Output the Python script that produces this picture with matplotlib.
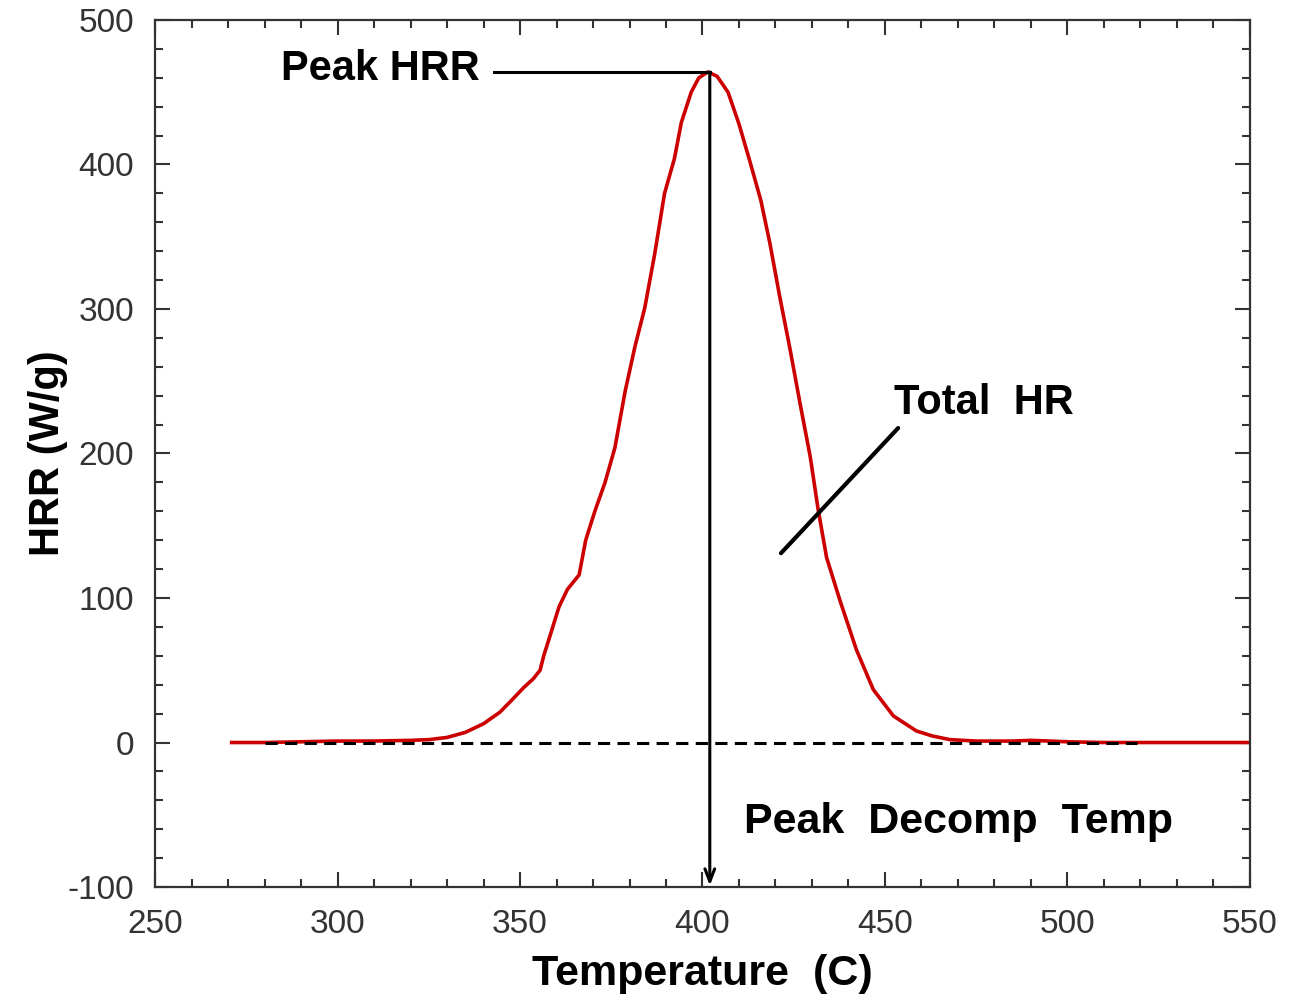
"""HRR curve vs temperature with peak annotations."""
import matplotlib
matplotlib.use("Agg")
import matplotlib.pyplot as plt
from matplotlib.ticker import MultipleLocator

# curve
temperature = [271, 280, 290, 300, 310, 320, 325, 330, 335, 340, 344.5, 348,
               351, 353.6, 355.5, 356.5, 358, 360.7, 363, 366.2, 368, 370.5,
               373.3, 376, 378.8, 381.5, 384.2, 386.9, 389.6, 392.3, 394.2,
               396.9, 399, 401.5, 404, 407, 410, 413, 416, 418.5, 421.2, 424,
               426.7, 429.5, 431.7, 434, 437.7, 442.2, 446.8, 452.3, 458.6, 463,
               467.8, 475, 485, 490, 495, 500, 510, 520, 530, 550]
hrr = [0, 0, 0.5, 1, 1, 1.5, 2, 3.5, 7, 13, 21, 30,
       38, 44, 50, 60, 72, 94, 106, 116, 140, 160,
       180, 204, 243, 274, 301, 338, 380, 404, 429,
       450, 460, 464, 461, 450, 428, 402, 375, 345, 308, 272,
       235, 198, 161, 128, 98, 64, 36.6, 18.4, 8, 4.5,
       2, 1, 1, 1.5, 1, 0.5, 0, 0, 0, 0]

baseline_t = [280, 519]
peak_t, peak_hrr = 402, 464
xticks = [250, 300, 350, 400, 450, 500, 550]
yticks = [-100, 0, 100, 200, 300, 400, 500]

plt.rcParams["font.family"] = ["Liberation Sans", "DejaVu Sans"]
plt.rcParams["axes.unicode_minus"] = False

fig = plt.figure(figsize=(13.06, 9.98), dpi=100)
ax = fig.add_axes([0.1187, 0.1112, 0.9571 - 0.1187, 0.98 - 0.1112])

ax.plot(temperature, hrr, color="#cc0000", lw=2.6, zorder=2)
ax.plot(baseline_t, [0, 0], color="black", lw=2.2,
        linestyle=(0, (4, 2.4)), zorder=3)

# peak HRR leader + vertical arrow down to the axis
ax.plot([343, peak_t], [peak_hrr, peak_hrr], color="black", lw=2.2, zorder=4)
ax.annotate("", xy=(peak_t, -99), xytext=(peak_t, peak_hrr),
            arrowprops=dict(arrowstyle="->,head_length=0.9,head_width=0.35",
                            color="black", lw=2.2, shrinkA=0, shrinkB=0),
            zorder=4)
ax.text(339, 466, "Peak HRR", ha="right", va="center",
        fontsize=30, fontweight="bold")

# total HR leader line
ax.plot([453.6, 421.5], [217.6, 131], color="black", lw=3,
        solid_capstyle="round", zorder=4)
ax.text(452.5, 235, "Total  HR", ha="left", va="center",
        fontsize=30, fontweight="bold")

ax.text(411.5, -55, "Peak  Decomp  Temp", ha="left", va="center",
        fontsize=31, fontweight="bold")

ax.set_xlim(250, 550)
ax.set_ylim(-100, 500)
ax.set_xticks(xticks)
ax.set_yticks(yticks)
ax.xaxis.set_minor_locator(MultipleLocator(10))
ax.yaxis.set_minor_locator(MultipleLocator(20))
ax.tick_params(which="both", direction="in", top=True, right=True,
               width=1.5, color="#333333")
ax.tick_params(which="major", length=11, labelsize=24, labelcolor="#333333")
ax.tick_params(axis="x", which="major", pad=16)
ax.tick_params(axis="y", which="major", pad=15)
ax.tick_params(which="minor", length=5.5)
for s in ax.spines.values():
    s.set_linewidth(1.6)
    s.set_color("#333333")

ax.set_xlabel("Temperature  (C)", fontsize=31, fontweight="bold", labelpad=10)
ax.set_ylabel("HRR (W/g)", fontsize=30, fontweight="bold", labelpad=0)

fig.savefig("out.png", dpi=100)
plt.close(fig)
